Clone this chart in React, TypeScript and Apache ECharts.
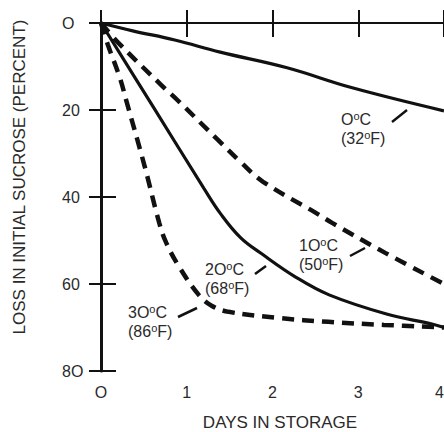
import React, { useEffect, useRef } from "react";
import * as echarts from "echarts";

const X_TICK_LABELS = ["O", "1", "2", "3", "4"];
const Y_TICK_LABELS = ["O", "20", "40", "60", "8O"];

const days0 = [0, 0.37, 0.86, 1.39, 2.17, 2.93, 4];
const loss0 = [0, 1.8, 3.9, 6.7, 10.3, 14.9, 20.2];

const days10 = [0, 0.2, 0.7, 0.89, 1.37, 1.63, 1.89, 2.51, 2.7, 3.32, 4];
const loss10 = [0, 4.5, 14.2, 17.7, 27, 32, 36.5, 43.7, 46, 52.9, 60];

const days20 = [0, 0.6, 1.2, 1.4, 1.63, 1.87, 2.27, 2.66, 3.33, 3.86, 4];
const loss20 = [0, 19, 38, 44, 49.4, 53, 58.4, 62.5, 66.9, 69.2, 70];

const days30 = [0, 0.08, 0.22, 0.3, 0.51, 0.68, 0.76, 0.91, 1.14, 1.29, 1.49, 2.07, 2.65, 3.3, 4];
const loss30 = [0, 5, 12.6, 18.2, 33, 46, 50.5, 56, 62.5, 65, 66.4, 67.8, 68.7, 69.4, 70];

const zip = (xs: number[], ys: number[]) => xs.map((x, i) => [x, ys[i]]);

const FONT = "'Liberation Sans', Arial, sans-serif";
const INK = "#111";
const TXT = "#2a2a2a";

const rich = {
  n: { fontSize: 16, lineHeight: 19, fontFamily: FONT, color: TXT },
  s: { fontSize: 11, verticalAlign: "top", fontFamily: FONT, color: TXT },
};

function label(x: number, y: number, c: string, f: string) {
  return {
    type: "text",
    x,
    y,
    style: {
      text: `{n|${c}}{s|o}{n|C}\n{n|(${f}}{s|o}{n|F)}`,
      rich,
      fill: TXT,
      font: `16px ${FONT}`,
      align: "left",
      verticalAlign: "top",
    },
  };
}

function leader(x1: number, y1: number, x2: number, y2: number) {
  return {
    type: "line",
    shape: { x1, y1, x2, y2 },
    style: { stroke: INK, lineWidth: 2.5 },
  };
}

export default function App() {
  const ref = useRef<HTMLDivElement>(null);
  useEffect(() => {
    if (!ref.current) return;
    const chart = echarts.init(ref.current, null, { renderer: "svg" });
    const axisLbl = { fontSize: 16, color: TXT, fontFamily: FONT };
    const solid = { color: INK, width: 3.2 };
    const dashed = { color: INK, width: 4.5, type: [12, 8] as any };
    const common = { type: "line", symbol: "none", smooth: 0.4, xAxisIndex: 0, yAxisIndex: 0 };
    chart.setOption({
      animation: false,
      backgroundColor: "#fff",
      grid: { left: 101, top: 23, right: 0, bottom: 61, outerBoundsMode: "none", containLabel: false },
      xAxis: [
        {
          type: "value",
          min: 0,
          max: 4,
          interval: 1,
          position: "bottom",
          axisLine: { show: true, lineStyle: { color: INK, width: 2 } },
          axisTick: { show: true, inside: true, length: 13, lineStyle: { color: INK, width: 2 } },
          axisLabel: {
            ...axisLbl,
            margin: 13,
            alignMaxLabel: "right",
            formatter: (v: number) => X_TICK_LABELS[Math.round(v)],
          },
          splitLine: { show: false },
        },
        {
          type: "value",
          min: 0,
          max: 4,
          interval: 1,
          position: "top",
          axisLine: { show: true, lineStyle: { color: INK, width: 2 } },
          axisTick: { show: true, inside: true, length: 14, lineStyle: { color: INK, width: 2 } },
          axisLabel: { show: false },
          splitLine: { show: false },
        },
      ],
      yAxis: [
        {
          type: "value",
          inverse: true,
          min: 0,
          max: 80,
          interval: 20,
          position: "left",
          axisLine: { show: true, lineStyle: { color: INK, width: 3 } },
          axisTick: { show: true, inside: true, length: 15, lineStyle: { color: INK, width: 2 } },
          axisLabel: {
            ...axisLbl,
            margin: 39,
            align: "left",
            formatter: (v: number) => Y_TICK_LABELS[Math.round(v / 20)],
          },
          splitLine: { show: false },
        },
        {
          type: "value",
          inverse: true,
          min: 0,
          max: 80,
          interval: 20,
          position: "right",
          axisLine: { show: false },
          axisTick: { show: true, inside: true, length: 12, lineStyle: { color: INK, width: 2 } },
          axisLabel: { show: false },
          splitLine: { show: false },
        },
      ],
      series: [
        { ...common, name: "0C", data: zip(days0, loss0), lineStyle: solid },
        { ...common, name: "10C", data: zip(days10, loss10), lineStyle: dashed },
        { ...common, name: "20C", data: zip(days20, loss20), lineStyle: solid },
        { ...common, name: "30C", data: zip(days30, loss30), lineStyle: dashed },
      ],
      graphic: [
        {
          type: "text",
          x: 19,
          y: 177,
          rotation: Math.PI / 2,
          style: {
            text: "LOSS IN INITIAL SUCROSE (PERCENT)",
            font: `17px ${FONT}`,
            fill: TXT,
            align: "center",
            verticalAlign: "middle",
          },
        },
        {
          type: "text",
          x: 280,
          y: 422,
          style: {
            text: "DAYS IN STORAGE",
            font: `17px ${FONT}`,
            fill: TXT,
            align: "center",
            verticalAlign: "middle",
          },
        },
        label(341, 110, "O", "32"),
        leader(392, 122, 407, 110),
        label(299, 236, "1O", "50"),
        leader(350, 256, 365, 248),
        label(205, 260, "2O", "68"),
        leader(255, 274, 266, 266),
        label(128, 303, "3O", "86"),
        leader(178, 317, 197, 308),
      ],
    });
    return () => chart.dispose();
  }, []);
  return (
    <div
      ref={ref}
      style={{ position: "fixed", left: 0, top: 0, width: 444, height: 432, background: "#fff" }}
    />
  );
}
